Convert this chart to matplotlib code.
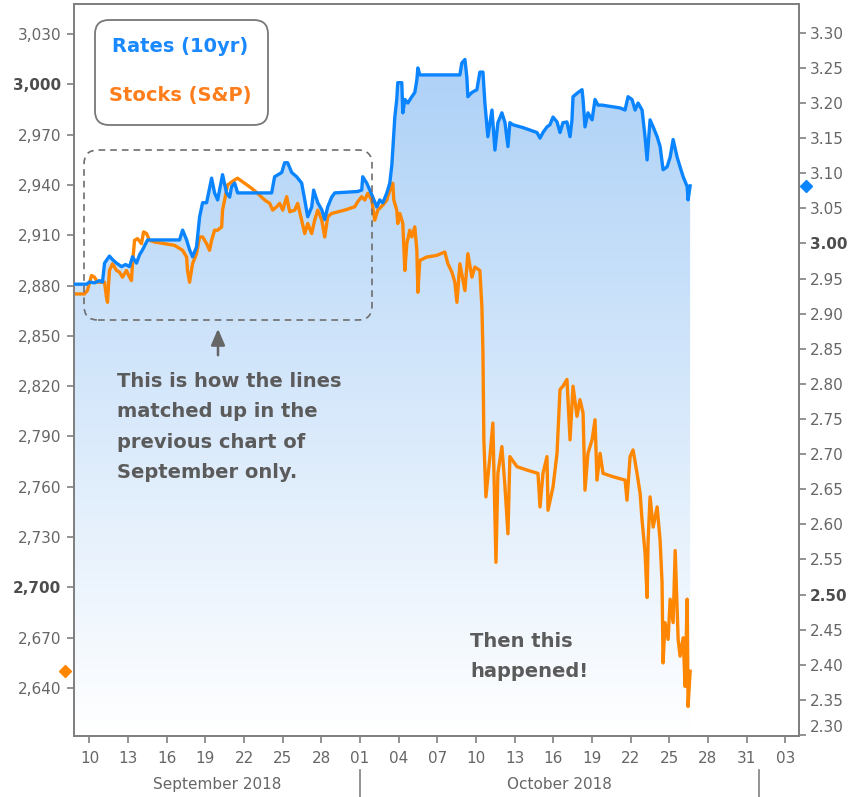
"""
rates vs stocks, sep-oct 2018
"""

import datetime as dt
import numpy as np
import matplotlib
matplotlib.use("Agg")
import matplotlib.pyplot as plt
import matplotlib.dates as mdates
import matplotlib.transforms as mtransforms
from matplotlib.colors import LinearSegmentedColormap
from matplotlib.patches import FancyBboxPatch, FancyArrowPatch
from matplotlib.path import Path

# day numbers count from Aug 31 2018 (1 = Sep 1, 31 = Oct 1, 62 = Nov 1)
rate_day = [8.83, 9.77, 10.00, 10.39, 10.78, 11.01, 11.17, 11.55, 11.79, 12.10,
            12.49, 12.80, 13.11, 13.34, 13.65, 13.89, 14.12, 14.51, 14.90, 16.99,
            17.23, 17.54, 17.77, 18.00, 18.31, 18.55, 18.78, 19.09, 19.48, 19.71,
            19.95, 20.33, 20.64, 20.88, 21.03, 21.27, 21.50, 21.81, 24.14, 24.37,
            24.92, 25.15, 25.38, 25.70, 26.08, 26.47, 26.71, 26.94, 27.25, 27.40,
            27.72, 28.03, 28.26, 28.49, 28.80, 29.04, 30.82, 31.13, 31.21, 31.52,
            31.76, 31.99, 32.30, 32.53, 32.77, 33.08, 33.31, 33.47, 33.54, 33.70,
            33.85, 33.93, 34.24, 34.32, 34.48, 34.71, 35.02, 35.25, 35.41, 35.49,
            35.64, 38.75, 38.90, 39.14, 39.29, 39.37, 39.68, 40.07, 40.30, 40.54,
            40.69, 40.92, 41.24, 41.47, 41.70, 42.01, 42.25, 42.48, 42.63, 42.87,
            43.64, 44.73, 44.97, 45.20, 45.51, 45.74, 45.98, 46.29, 46.52, 46.75,
            47.06, 47.30, 47.45, 47.53, 47.92, 48.23, 48.31, 48.46, 48.69, 49.01,
            49.24, 49.47, 49.78, 51.18, 51.57, 51.80, 52.11, 52.35, 52.58, 52.89,
            53.12, 53.28, 53.51, 53.75, 54.06, 54.29, 54.52, 54.83, 55.07, 55.30,
            55.61, 55.84, 56.08, 56.39, 56.46, 56.62]
rate_val = [2.942, 2.942, 2.945, 2.944, 2.947, 2.945, 2.972, 2.982, 2.977, 2.972,
            2.967, 2.970, 2.967, 2.981, 2.972, 2.984, 2.991, 3.005, 3.005, 3.005,
            3.019, 3.005, 2.991, 2.981, 2.995, 3.038, 3.058, 3.058, 3.093, 3.072,
            3.062, 3.098, 3.072, 3.066, 3.081, 3.086, 3.072, 3.072, 3.072, 3.095,
            3.101, 3.115, 3.115, 3.101, 3.095, 3.086, 3.062, 3.038, 3.052, 3.076,
            3.058, 3.048, 3.034, 3.052, 3.066, 3.072, 3.074, 3.076, 3.095, 3.086,
            3.076, 3.066, 3.052, 3.062, 3.058, 3.072, 3.086, 3.112, 3.133, 3.180,
            3.205, 3.229, 3.229, 3.186, 3.205, 3.200, 3.209, 3.215, 3.233, 3.250,
            3.240, 3.240, 3.257, 3.262, 3.237, 3.209, 3.215, 3.219, 3.244, 3.244,
            3.200, 3.152, 3.190, 3.133, 3.172, 3.186, 3.172, 3.138, 3.172, 3.169,
            3.165, 3.158, 3.150, 3.158, 3.166, 3.169, 3.180, 3.173, 3.158, 3.172,
            3.173, 3.152, 3.176, 3.209, 3.215, 3.219, 3.205, 3.166, 3.186, 3.176,
            3.205, 3.197, 3.197, 3.193, 3.190, 3.209, 3.205, 3.190, 3.200, 3.190,
            3.152, 3.119, 3.176, 3.166, 3.152, 3.138, 3.105, 3.109, 3.123, 3.148,
            3.123, 3.109, 3.095, 3.081, 3.062, 3.082]

stock_day = [8.83, 9.61, 9.84, 10.16, 10.39, 10.62, 10.93, 11.17, 11.32, 11.40,
             11.55, 11.79, 12.10, 12.33, 12.56, 12.87, 13.11, 13.26, 13.34, 13.50,
             13.73, 14.04, 14.20, 14.43, 14.66, 15.05, 16.60, 17.23, 17.54, 17.61,
             17.77, 18.00, 18.31, 18.55, 18.78, 19.09, 19.32, 19.48, 19.71, 19.95,
             20.26, 20.33, 20.49, 20.72, 21.27, 21.50, 22.04, 22.59, 23.05, 23.60,
             23.99, 24.22, 24.53, 24.76, 25.00, 25.31, 25.54, 25.93, 26.16, 26.47,
             26.71, 26.94, 27.25, 27.48, 27.72, 28.03, 28.26, 28.49, 28.80, 29.81,
             30.59, 30.82, 31.13, 31.37, 31.60, 31.91, 32.14, 32.38, 32.77, 33.08,
             33.31, 33.47, 33.54, 33.62, 33.85, 33.93, 34.09, 34.32, 34.48, 34.63,
             34.86, 35.02, 35.25, 35.41, 35.49, 35.64, 36.18, 36.96, 37.58, 37.82,
             38.13, 38.36, 38.52, 38.75, 39.14, 39.37, 39.68, 39.91, 40.30, 40.46,
             40.54, 40.61, 40.77, 41.08, 41.31, 41.55, 41.70, 42.01, 42.25, 42.48,
             42.63, 43.18, 43.95, 44.81, 44.97, 45.20, 45.51, 45.59, 45.98, 46.29,
             46.52, 46.75, 47.06, 47.30, 47.53, 47.84, 48.07, 48.31, 48.46, 48.69,
             49.01, 49.24, 49.39, 49.63, 49.86, 50.64, 51.57, 51.72, 51.96, 52.19,
             52.50, 52.74, 52.89, 53.12, 53.28, 53.36, 53.51, 53.75, 54.06, 54.29,
             54.44, 54.52, 54.67, 54.91, 55.07, 55.30, 55.46, 55.69, 55.84, 56.08,
             56.23, 56.39, 56.46, 56.62]
stock_val = [2875, 2875, 2877, 2886, 2885, 2882, 2882, 2882, 2873, 2870,
             2889, 2893, 2889, 2888, 2885, 2889, 2885, 2883, 2893, 2907,
             2908, 2905, 2912, 2911, 2907, 2906, 2904, 2901, 2897, 2889,
             2882, 2893, 2899, 2909, 2909, 2905, 2901, 2907, 2913, 2913,
             2915, 2925, 2931, 2940, 2943, 2944, 2941, 2938, 2935, 2931,
             2929, 2925, 2927, 2929, 2925, 2933, 2924, 2925, 2929, 2919,
             2911, 2917, 2911, 2919, 2925, 2919, 2909, 2921, 2923, 2925,
             2927, 2930, 2933, 2931, 2935, 2931, 2919, 2925, 2928, 2931,
             2937, 2939, 2941, 2931, 2925, 2917, 2923, 2917, 2889, 2905,
             2913, 2909, 2915, 2901, 2876, 2895, 2897, 2898, 2900, 2893,
             2888, 2882, 2870, 2893, 2877, 2899, 2885, 2891, 2889, 2867,
             2840, 2788, 2754, 2778, 2798, 2715, 2768, 2784, 2760, 2732,
             2778, 2772, 2770, 2768, 2748, 2768, 2778, 2746, 2760, 2780,
             2818, 2820, 2824, 2788, 2820, 2802, 2812, 2804, 2758, 2780,
             2788, 2800, 2764, 2780, 2768, 2766, 2764, 2752, 2778, 2782,
             2768, 2756, 2740, 2721, 2694, 2728, 2754, 2736, 2748, 2728,
             2703, 2655, 2679, 2669, 2693, 2679, 2722, 2669, 2659, 2670,
             2641, 2693, 2629, 2650]

tick_day = list(range(10, 65, 3))
stock_ticks = list(range(2640, 3031, 30))
rate_ticks = [round(2.30 + 0.05 * i, 2) for i in range(21)]
bold_stock = [2700, 3000]
bold_rate = [2.50, 3.00]
month_names = ["September 2018", "October 2018"]
month_edges = [31, 62]

blue = "#0a84ff"
orange = "#ff8600"
grey = "#808080"
label_col = "#666666"

base = mdates.date2num(dt.datetime(2018, 8, 31))
rx = base + np.array(rate_day)
sx = base + np.array(stock_day)
x0, x1 = base + 8.80, base + 65.07
s0, s1 = 2611.4, 3047.9
r0, r1 = 2.2986, 3.341

W, H = 853, 797
fig = plt.figure(figsize=(W / 100, H / 100), dpi=100)
ax = fig.add_axes([74 / W, 1 - 736 / H, (799 - 74) / W, (736 - 4) / H])
ax2 = ax.twinx()

# gradient under the rates line
grad = np.linspace(0, 1, 256).reshape(-1, 1)
cmap = LinearSegmentedColormap.from_list("fill", ["#ffffff", "#a6cdf6"])
im = ax.imshow(grad, extent=[x0, x1, s0, s1], origin="lower", aspect="auto",
               cmap=cmap, zorder=0, interpolation="bilinear")
verts = [(x0, r0), (x0, rate_val[0])] + list(zip(rx, rate_val)) + [(rx[-1], r0)]
im.set_clip_path(Path(verts), transform=ax2.transData)

ax.plot(sx, stock_val, color=orange, lw=2.4, zorder=2)
ax2.plot(rx, rate_val, color=blue, lw=2.4, zorder=3)

ax.set_xlim(x0, x1)
ax.set_ylim(s0, s1)
ax2.set_ylim(r0, r1)

# last value markers on the axes
bl = mtransforms.blended_transform_factory(ax.transAxes, ax.transData)
ax.plot([-0.0125], [stock_val[-1]], "D", ms=6, color=orange, transform=bl, clip_on=False)
bl2 = mtransforms.blended_transform_factory(ax2.transAxes, ax2.transData)
ax2.plot([1.0095], [rate_val[-1]], "D", ms=6, color=blue, transform=bl2, clip_on=False)

for a in (ax, ax2):
    for s in a.spines.values():
        s.set_color(grey)
        s.set_linewidth(1.3)

ax.set_yticks(stock_ticks)
ax.set_yticklabels([f"{v:,}" for v in stock_ticks])
ax2.set_yticks(rate_ticks)
ax2.set_yticklabels([f"{v:.2f}" for v in rate_ticks])
ax.tick_params(axis="y", length=5, width=1.2, color=grey, labelcolor=label_col,
               labelsize=11, pad=4)
ax2.tick_params(axis="y", length=5, width=1.2, color=grey, labelcolor=label_col,
                labelsize=11, pad=3)
for lab, v in zip(ax.get_yticklabels(), stock_ticks):
    if v in bold_stock:
        lab.set_fontweight("bold")
        lab.set_color("#4d4d4d")
for lab, v in zip(ax2.get_yticklabels(), rate_ticks):
    if v in bold_rate:
        lab.set_fontweight("bold")
        lab.set_color("#4d4d4d")
    if v == 2.30:
        lab.set_verticalalignment("bottom")

ax.set_xticks(base + np.array(tick_day))
ax.xaxis.set_major_formatter(mdates.DateFormatter("%d"))
ax.tick_params(axis="x", length=5, width=1.2, color=grey, labelcolor=label_col,
               labelsize=11, pad=6)

# month labels with separators
bx = mtransforms.blended_transform_factory(ax.transData, ax.transAxes)
starts = [x0] + [base + e for e in month_edges[:-1]]
ends = [base + e for e in month_edges]
for name, a, b in zip(month_names, starts, ends):
    ax.text((a + b) / 2, -0.066, name, transform=bx, ha="center", va="center",
            fontsize=11, color=label_col)
for e in month_edges:
    ax.plot([base + e] * 2, [-0.046, -0.09], transform=bx, color=grey, lw=1.2,
            clip_on=False)


def fx(x):
    return x / W


def fy(y):
    return 1 - y / H


# legend box
legend_box = FancyBboxPatch((fx(95), fy(125)), fx(268) - fx(95), fy(20) - fy(125),
                            boxstyle="round,pad=0,rounding_size=0.0165",
                            mutation_aspect=W / H, transform=fig.transFigure,
                            fc="white", ec="#777777", lw=1.3)
fig.add_artist(legend_box)
fig.text(fx(180), fy(47), "Rates (10yr)", ha="center", va="center", fontsize=14,
         fontweight="bold", color="#1a88ff")
fig.text(fx(180), fy(95), "Stocks (S&P)", ha="center", va="center", fontsize=14,
         fontweight="bold", color="#ff7d1a")

# dashed box around september
sep_box = FancyBboxPatch((fx(84), fy(320)), fx(372) - fx(84), fy(150) - fy(320),
                         boxstyle="round,pad=0,rounding_size=0.0165",
                         mutation_aspect=W / H, transform=fig.transFigure,
                         fc="none", ec="#6e6e6e", lw=1.2, ls=(0, (4, 3)))
fig.add_artist(sep_box)

fig.add_artist(FancyArrowPatch(
    (fx(218), fy(358)), (fx(218), fy(326)), transform=fig.transFigure,
    arrowstyle="-|>,head_length=0.7,head_width=0.3", mutation_scale=14,
    color="#666666", lw=1.8))

fig.text(fx(117), fy(372),
         "This is how the lines\nmatched up in the\nprevious chart of\nSeptember only.",
         ha="left", va="top", fontsize=14, fontweight="bold", color="#5b5b5b",
         linespacing=1.75)
fig.text(fx(470), fy(632), "Then this\nhappened!", ha="left", va="top",
         fontsize=14, fontweight="bold", color="#5b5b5b", linespacing=1.75)

fig.savefig("out.png", dpi=100)
